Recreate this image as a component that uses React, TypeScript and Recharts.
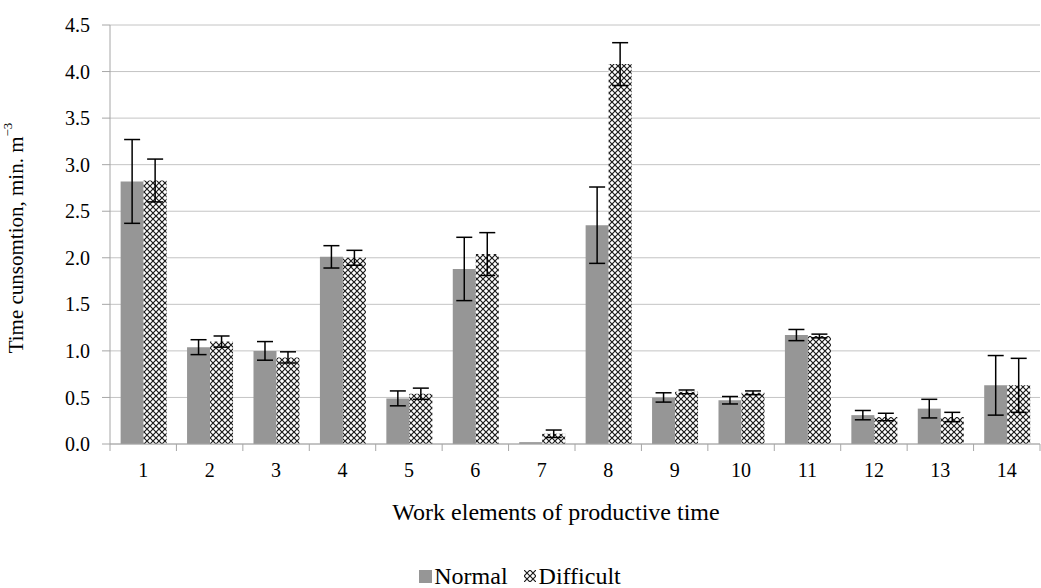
import { BarChart, Bar, XAxis, YAxis, CartesianGrid, ErrorBar, Legend, Label } from 'recharts';

const categories = ['1', '2', '3', '4', '5', '6', '7', '8', '9', '10', '11', '12', '13', '14'];
const normal = [2.82, 1.04, 1.0, 2.01, 0.49, 1.88, 0.02, 2.35, 0.5, 0.47, 1.17, 0.31, 0.38, 0.63];
const normalErr = [0.45, 0.08, 0.1, 0.12, 0.08, 0.34, 0.0, 0.41, 0.05, 0.04, 0.06, 0.05, 0.1, 0.32];
const difficult = [2.83, 1.1, 0.93, 2.0, 0.54, 2.04, 0.11, 4.08, 0.56, 0.55, 1.16, 0.29, 0.29, 0.63];
const difficultErr = [0.23, 0.06, 0.06, 0.08, 0.06, 0.23, 0.04, 0.23, 0.02, 0.02, 0.02, 0.04, 0.05, 0.29];
const yTicks = [0, 0.5, 1, 1.5, 2, 2.5, 3, 3.5, 4, 4.5];

const W = 1041;
const H = 588;
const PLOT_LEFT = 110;
const PLOT_RIGHT = 1;
const PLOT_TOP = 25;
const PLOT_BOTTOM = 444;
const BAND = (W - PLOT_LEFT - PLOT_RIGHT) / categories.length;
const FONT = 'Times New Roman, Liberation Serif, Tinos, DejaVu Serif, serif';
const GRAY = '#969696';
const AXIS = '#a6a6a6';

const data = categories.map((name, i) => ({
  name,
  normal: normal[i],
  normalErr: normalErr[i],
  difficult: difficult[i],
  difficultErr: difficultErr[i],
}));

function XTick(props: any) {
  const { x, payload, index } = props;
  const left = x - BAND / 2;
  return (
    <g>
      <line x1={left} y1={PLOT_BOTTOM} x2={left} y2={PLOT_BOTTOM + 7} stroke={AXIS} />
      {index === categories.length - 1 && (
        <line x1={x + BAND / 2} y1={PLOT_BOTTOM} x2={x + BAND / 2} y2={PLOT_BOTTOM + 7} stroke={AXIS} />
      )}
      <text x={x} y={PLOT_BOTTOM + 33} textAnchor="middle" fontSize={20} style={{ fontFamily: FONT }} fill="#000">
        {payload.value}
      </text>
    </g>
  );
}

function XTitle() {
  return (
    <text
      x={556}
      y={514}
      textAnchor="middle"
      dominantBaseline="middle"
      fontSize={24}
      style={{ fontFamily: FONT }}
      fill="#000"
    >
      Work elements of productive time
    </text>
  );
}

function YTitle() {
  const cx = 18;
  const cy = 238;
  return (
    <text
      x={cx}
      y={cy}
      transform={`rotate(-90 ${cx} ${cy})`}
      textAnchor="middle"
      dominantBaseline="middle"
      fontSize={21}
      style={{ fontFamily: FONT }}
      fill="#000"
    >
      Time cunsomtion, min. m
      <tspan fontSize={13} dy={-9}>−3</tspan>
    </text>
  );
}

function CustomLegend() {
  return (
    <div
      style={{
        display: 'flex',
        justifyContent: 'center',
        alignItems: 'center',
        gap: 16,
        fontFamily: FONT,
        fontSize: 24,
        lineHeight: '24px',
        color: '#000',
      }}
    >
      <span style={{ display: 'flex', alignItems: 'center', gap: 2 }}>
        <span style={{ display: 'inline-block', width: 13, height: 13, background: GRAY }} />
        Normal
      </span>
      <span style={{ display: 'flex', alignItems: 'center', gap: 3 }}>
        <svg width={12} height={12}>
          <rect width={12} height={12} fill="url(#crosshatch)" />
        </svg>
        Difficult
      </span>
    </div>
  );
}

export default function App() {
  return (
    <div style={{ position: 'absolute', left: 0, top: 0, width: W, height: H, background: '#fff', fontFamily: FONT }}>
      <svg width={0} height={0} style={{ position: 'absolute' }}>
        <defs>
          <pattern id="crosshatch" width={6} height={6} patternUnits="userSpaceOnUse">
            <rect width={6} height={6} fill="#fff" />
            <path d="M0,0 L6,6 M6,0 L0,6" stroke="#1a1a1a" strokeWidth={1.2} />
          </pattern>
        </defs>
      </svg>
      <BarChart
        width={W}
        height={H}
        data={data}
        margin={{ top: PLOT_TOP, right: PLOT_RIGHT, left: 0, bottom: 0 }}
        barCategoryGap="16%"
        barGap={0}
        style={{ fontFamily: FONT }}
      >
        <CartesianGrid vertical={false} stroke="#c4c4c4" />
        <XAxis
          dataKey="name"
          height={H - PLOT_BOTTOM - 24}
          axisLine={{ stroke: AXIS }}
          tickLine={false}
          tick={<XTick />}
          interval={0}
        >
          <Label content={<XTitle />} />
        </XAxis>
        <YAxis
          width={PLOT_LEFT}
          domain={[0, 4.5]}
          ticks={yTicks}
          interval={0}
          tickFormatter={(v: number) => v.toFixed(1)}
          axisLine={{ stroke: AXIS }}
          tickLine={{ stroke: AXIS }}
          tickSize={8}
          tickMargin={12}
          tick={{ fontSize: 20, fontFamily: FONT, fill: '#000' }}
          label={<YTitle />}
        />
        <Legend verticalAlign="bottom" height={24} content={<CustomLegend />} />
        <Bar dataKey="normal" name="Normal" fill={GRAY} isAnimationActive={false}>
          <ErrorBar dataKey="normalErr" width={8} stroke="#000" strokeWidth={1.5} />
        </Bar>
        <Bar dataKey="difficult" name="Difficult" fill="url(#crosshatch)" isAnimationActive={false}>
          <ErrorBar dataKey="difficultErr" width={8} stroke="#000" strokeWidth={1.5} />
        </Bar>
      </BarChart>
    </div>
  );
}
